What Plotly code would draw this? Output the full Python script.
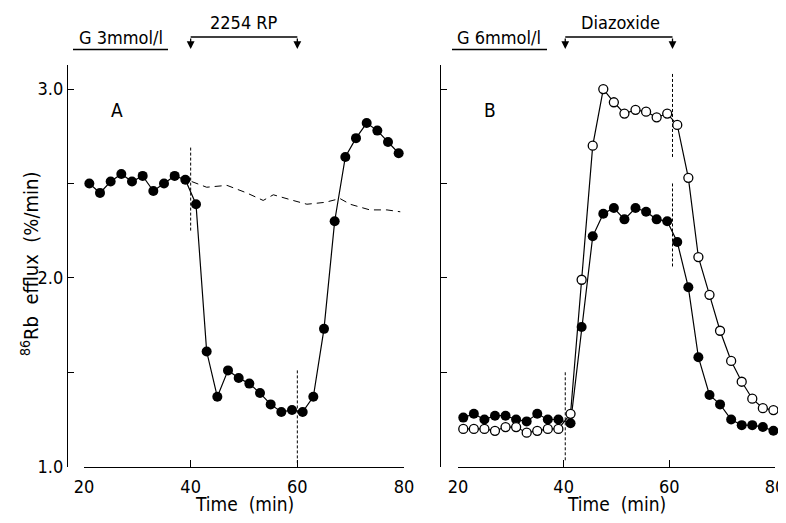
import plotly.graph_objects as go

# panel A: glucose 3 mmol/l, 2254 RP from 40 to 60 min
time_a = [21, 23, 25, 27, 29, 31, 33, 35, 37, 39, 41, 43, 45, 47, 49,
          51, 53, 55, 57, 59, 61, 63, 65, 67, 69, 71, 73, 75, 77, 79]
efflux_a = [2.50, 2.45, 2.51, 2.55, 2.51, 2.54, 2.46, 2.50, 2.54, 2.52,
            2.39, 1.61, 1.37, 1.51, 1.47, 1.44, 1.39, 1.33, 1.29, 1.30,
            1.29, 1.37, 1.73, 2.30, 2.64, 2.74, 2.82, 2.78, 2.72, 2.66]
control_time_a = [40.2, 43.0, 46.8, 50.5, 53.6, 55.5, 59.2, 61.8, 65.2, 68.0, 69.9, 73.6, 76.8, 79.3]
control_a = [2.51, 2.48, 2.49, 2.45, 2.41, 2.44, 2.41, 2.39, 2.40, 2.42, 2.39, 2.36, 2.36, 2.35]

# panel B: glucose 6 mmol/l, diazoxide from 40 to 60 min
time_b = [21, 23, 25, 27, 29, 31, 33, 35, 37, 39, 41.3, 43.4, 45.5, 47.5, 49.5,
          51.5, 53.6, 55.6, 57.6, 59.6, 61.5, 63.6, 65.5, 67.6, 69.6, 71.7, 73.7, 75.7, 77.7, 79.7]
open_b = [1.20, 1.20, 1.20, 1.19, 1.21, 1.21, 1.18, 1.19, 1.20, 1.20,
          1.28, 1.99, 2.70, 3.00, 2.93, 2.87, 2.89, 2.88, 2.85, 2.87,
          2.81, 2.53, 2.11, 1.91, 1.72, 1.56, 1.45, 1.36, 1.31, 1.30]
filled_b = [1.26, 1.28, 1.25, 1.27, 1.27, 1.25, 1.24, 1.28, 1.25, 1.25,
            1.23, 1.74, 2.22, 2.34, 2.37, 2.31, 2.37, 2.35, 2.31, 2.30,
            2.19, 1.95, 1.58, 1.38, 1.33, 1.25, 1.22, 1.22, 1.21, 1.19]

treat_a = [40, 60]
treat_b = [40.3, 60.6]
y_ticks = [1.0, 1.5, 2.0, 2.5, 3.0]
y_ticktext = ['1.0', ' ', '2.0', ' ', '3.0']
x_ticks = [20, 40, 60, 80]

FONT = 'DejaVu Sans Condensed, Liberation Sans Narrow, DejaVu Sans, sans-serif'
# the page body has an 8px margin, so the figure is drawn inside it
OFF = 8
W, H = 786 - 2 * OFF, 523 - 2 * OFF


def px_y(p):
    return 1 - (p - OFF) / H


def px_x(p):
    return (p - OFF) / W


fig = go.Figure()

line_style = dict(color='black', width=1.2)
filled = dict(color='black', size=10, symbol='circle')
hollow = dict(color='white', size=9, symbol='circle', line=dict(color='black', width=1.3))

fig.add_trace(go.Scatter(x=control_time_a, y=control_a, mode='lines',
                         line=dict(color='black', width=1, dash='7px,5px'),
                         xaxis='x', yaxis='y', cliponaxis=False))
fig.add_trace(go.Scatter(x=time_a, y=efflux_a, mode='lines+markers', line=line_style,
                         marker=filled, xaxis='x', yaxis='y', cliponaxis=False))
fig.add_trace(go.Scatter(x=time_b, y=filled_b, mode='lines+markers', line=line_style,
                         marker=filled, xaxis='x2', yaxis='y2', cliponaxis=False))
fig.add_trace(go.Scatter(x=time_b, y=open_b, mode='lines+markers', line=line_style,
                         marker=hollow, xaxis='x2', yaxis='y2', cliponaxis=False))

y_dom = [px_y(466.7), px_y(64.5)]
xa = dict(range=[20, 80], showgrid=False, zeroline=False, showline=True, linecolor='black',
          linewidth=1.3, ticks='inside', ticklen=7, tickwidth=1.3, tickcolor='black',
          tickvals=x_ticks, ticklabelstandoff=4, automargin=False, ticklabeloverflow='allow',
          tickfont=dict(family=FONT, size=18, color='black'))
ya = dict(range=[1.0, 3.13], domain=y_dom, showgrid=False, zeroline=False, showline=True,
          linecolor='black', linewidth=1.3, ticks='inside', ticklen=6, tickwidth=1.3,
          tickcolor='black', tickvals=y_ticks, ticktext=y_ticktext, anchor='free',
          automargin=False, tickfont=dict(family=FONT, size=18, color='black'))

fig.update_layout(
    width=W, height=H,
    margin=dict(l=0, r=0, t=0, b=0, autoexpand=False),
    paper_bgcolor='white', plot_bgcolor='white',
    showlegend=False,
    xaxis=dict(xa, domain=[px_x(84), px_x(404)], anchor='y'),
    yaxis=dict(ya, position=px_x(67)),
    xaxis2=dict(xa, domain=[px_x(458), px_x(775)], anchor='y2'),
    yaxis2=dict(ya, position=px_x(440), showticklabels=False),
)

dot = dict(color='black', width=1, dash='3px,2px')
shapes = [
    dict(type='line', xref='x', yref='y', x0=treat_a[0], x1=treat_a[0], y0=2.69, y1=2.25, line=dot),
    dict(type='line', xref='x', yref='y', x0=treat_a[1], x1=treat_a[1], y0=1.51, y1=1.02, line=dot),
    dict(type='line', xref='x2', yref='y2', x0=treat_b[0], x1=treat_b[0], y0=1.50, y1=1.03, line=dot),
    dict(type='line', xref='x2', yref='y2', x0=treat_b[1], x1=treat_b[1], y0=3.08, y1=2.64, line=dot),
    dict(type='line', xref='x2', yref='y2', x0=treat_b[1], x1=treat_b[1], y0=2.50, y1=2.06, line=dot),
]

annotations = []


def label(x, y, text, size=18, **kw):
    return dict(x=px_x(x), y=px_y(y), xref='paper', yref='paper', text=text,
                xanchor='center', yanchor='middle', showarrow=False,
                font=dict(family=FONT, size=size, color='black'), **kw)


# headers: underlined glucose label + bracket for the drug
for xr, treat, gl, gx0, gx1, drug, drug_x in [
    ('x', treat_a, 'G 3mmol/l', 73, 168, '2254 RP', 244),
    ('x2', treat_b, 'G 6mmol/l', 452, 547, 'Diazoxide', 620),
]:
    annotations.append(label((gx0 + gx1) / 2, 38, gl))
    shapes.append(dict(type='line', xref='paper', yref='paper', x0=px_x(gx0), x1=px_x(gx1),
                       y0=px_y(49.5), y1=px_y(49.5), line=dict(color='black', width=1.3)))
    annotations.append(label(drug_x, 22, drug))
    shapes.append(dict(type='line', xref=xr, yref='paper', x0=treat[0], x1=treat[1],
                       y0=px_y(37), y1=px_y(37), line=dict(color='black', width=1.3)))
    for t in treat:
        annotations.append(dict(x=t, y=px_y(49), xref=xr, yref='paper', text='',
                                showarrow=True, ax=0, ay=-12, arrowhead=2, arrowsize=1.2,
                                arrowwidth=1.3, arrowcolor='black'))

# panel letters
annotations.append(label(117, 110, 'A', size=19))
annotations.append(label(490, 110, 'B', size=19))

# axis titles
for cx in [244, 616]:
    annotations.append(label(cx, 504, 'Time\u00a0 (min)', size=19))
annotations.append(label(30, 264, '<sup>86</sup>Rb\u00a0\u00a0efflux\u00a0\u00a0(%/min)',
                         size=20, textangle=-90))

fig.update_layout(shapes=shapes, annotations=annotations)

fig.write_html("out.html")
